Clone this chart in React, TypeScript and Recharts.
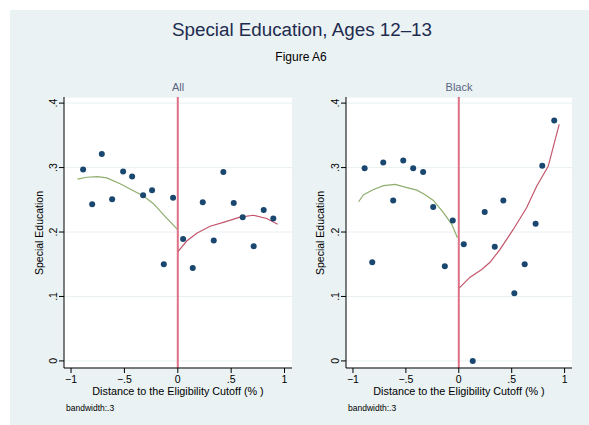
import React from "react";
import {
  ComposedChart,
  Scatter,
  Line,
  XAxis,
  YAxis,
  CartesianGrid,
  ReferenceLine,
} from "recharts";

// Binned means: distance to the eligibility cutoff (%) vs. special education rate
const allBinX = [-0.887, -0.802, -0.712, -0.615, -0.512, -0.428, -0.325, -0.241, -0.131, -0.044, 0.05, 0.14, 0.234, 0.337, 0.427, 0.524, 0.608, 0.711, 0.805, 0.895];
const allBinY = [0.297, 0.243, 0.321, 0.251, 0.294, 0.286, 0.257, 0.265, 0.15, 0.253, 0.189, 0.144, 0.246, 0.187, 0.293, 0.245, 0.223, 0.178, 0.234, 0.221];

const blackBinX = [-0.89, -0.818, -0.714, -0.62, -0.525, -0.431, -0.337, -0.242, -0.132, -0.057, 0.047, 0.132, 0.245, 0.34, 0.421, 0.525, 0.623, 0.726, 0.789, 0.902];
const blackBinY = [0.299, 0.153, 0.308, 0.249, 0.311, 0.299, 0.293, 0.239, 0.147, 0.218, 0.181, 0.0, 0.231, 0.177, 0.249, 0.105, 0.15, 0.213, 0.303, 0.373];

// Local fits left and right of the cutoff
const allLeftFitX = [-0.94, -0.852, -0.753, -0.665, -0.54, -0.416, -0.322, -0.228, -0.135, -0.004];
const allLeftFitY = [0.282, 0.285, 0.286, 0.284, 0.275, 0.264, 0.256, 0.244, 0.227, 0.204];
const allRightFitX = [0.003, 0.084, 0.178, 0.302, 0.427, 0.583, 0.708, 0.833, 0.936];
const allRightFitY = [0.17, 0.186, 0.198, 0.209, 0.215, 0.223, 0.226, 0.221, 0.212];

const blackLeftFitX = [-0.947, -0.9, -0.806, -0.711, -0.601, -0.491, -0.396, -0.318, -0.24, -0.145, -0.066, -0.013];
const blackLeftFitY = [0.247, 0.258, 0.266, 0.272, 0.274, 0.269, 0.265, 0.258, 0.249, 0.23, 0.212, 0.191];
const blackRightFitX = [0.003, 0.107, 0.217, 0.295, 0.39, 0.515, 0.642, 0.736, 0.845, 0.949];
const blackRightFitY = [0.113, 0.13, 0.142, 0.153, 0.173, 0.204, 0.238, 0.271, 0.302, 0.367];

const xTicks = [-1, -0.5, 0, 0.5, 1];
const xTickLabels = ["\u22121", "\u2212.5", "0", ".5", "1"];
const yTicks = [0, 0.1, 0.2, 0.3, 0.4];
const yTickLabels = ["0", ".1", ".2", ".3", ".4"];

const FONT = "'Liberation Sans', Arial, Helvetica, sans-serif";
const DOT = "#1a476f";
const GREEN = "#8fae6e";
const RED = "#c4566c";
const CUTOFF = "#df7088";

const zip = (xs: number[], ys: number[]) => xs.map((x, i) => ({ x, y: ys[i] }));

const YTick = (props: any) => {
  const { x, y, payload } = props;
  const i = yTicks.indexOf(payload.value);
  return (
    <text
      x={x}
      y={y}
      transform={`rotate(-90, ${x}, ${y})`}
      textAnchor="middle"
      fontSize={10.5}
      fontFamily={FONT}
      fill="#000"
    >
      {i >= 0 ? yTickLabels[i] : payload.value}
    </text>
  );
};

const Dot = (props: any) => {
  const { cx, cy } = props;
  if (cx == null || cy == null) return <g />;
  return <circle cx={cx} cy={cy} r={3} fill={DOT} />;
};

type PanelProps = {
  left: number;
  marginLeft: number;
  marginRight: number;
  points: { x: number; y: number }[];
  leftFit: { x: number; y: number }[];
  rightFit: { x: number; y: number }[];
};

const Panel = ({ left, marginLeft, marginRight, points, leftFit, rightFit }: PanelProps) => (
  <div style={{ position: "absolute", left, top: 80 }}>
    <ComposedChart
      width={289}
      height={345}
      margin={{ top: 17, right: marginRight, bottom: 27, left: marginLeft }}
    >
      <CartesianGrid
        vertical={false}
        horizontal={true}
        fill="#ffffff"
        stroke="#e8f0f1"
        strokeWidth={1}
      />
      <XAxis
        type="number"
        dataKey="x"
        domain={[-1.066, 1.07]}
        ticks={xTicks}
        tickFormatter={(v: number) => xTickLabels[xTicks.indexOf(v)] ?? String(v)}
        allowDataOverflow
        height={30}
        tickSize={5}
        tickMargin={3}
        stroke="#000"
        tick={{ fill: "#000", fontSize: 10.5, fontFamily: FONT }}
      />
      <YAxis
        type="number"
        dataKey="y"
        domain={[-0.011, 0.4095]}
        ticks={yTicks}
        allowDataOverflow
        width={30}
        tickSize={5}
        tickMargin={2}
        stroke="#000"
        tick={<YTick />}
      />
      <ReferenceLine x={0} stroke={CUTOFF} strokeWidth={2} ifOverflow="extendDomain" />
      <Line
        data={leftFit}
        dataKey="y"
        type="linear"
        stroke={GREEN}
        strokeWidth={1.2}
        dot={false}
        isAnimationActive={false}
      />
      <Line
        data={rightFit}
        dataKey="y"
        type="linear"
        stroke={RED}
        strokeWidth={1.2}
        dot={false}
        isAnimationActive={false}
      />
      <Scatter data={points} dataKey="y" shape={<Dot />} isAnimationActive={false} />
    </ComposedChart>
  </div>
);

const textBase: React.CSSProperties = {
  position: "absolute",
  fontFamily: FONT,
  whiteSpace: "nowrap",
  lineHeight: 1,
};

const Centered = ({ cx, top, size, color, children }: any) => (
  <div style={{ ...textBase, left: cx - 200, width: 400, top, fontSize: size, color, textAlign: "center" }}>
    {children}
  </div>
);

const YTitle = ({ cx, cy }: { cx: number; cy: number }) => (
  <div
    style={{
      ...textBase,
      left: cx - 60,
      top: cy - 6,
      width: 120,
      height: 12,
      fontSize: 10.5,
      color: "#000",
      textAlign: "center",
      transform: "rotate(-90deg)",
    }}
  >
    Special Education
  </div>
);

export default function App() {
  return (
    <div style={{ position: "absolute", left: 0, top: 0, width: 589, height: 425, background: "#ffffff", overflow: "hidden" }}>
      <div style={{ position: "absolute", left: 10, top: 10, width: 579, height: 415, background: "#eaf2f3" }} />

      <Centered cx={302} top={21} size={18.8} color="#1e2b4f">
        Special Education, Ages 12–13
      </Centered>
      <Centered cx={301} top={51} size={12} color="#000">
        Figure A6
      </Centered>

      <Centered cx={178} top={82} size={11} color="#5a6584">
        All
      </Centered>
      <Centered cx={459} top={82} size={11} color="#5a6584">
        Black
      </Centered>

      <Panel
        left={10}
        marginLeft={24}
        marginRight={7}
        points={zip(allBinX, allBinY)}
        leftFit={zip(allLeftFitX, allLeftFitY)}
        rightFit={zip(allRightFitX, allRightFitY)}
      />
      <Panel
        left={300}
        marginLeft={16}
        marginRight={17}
        points={zip(blackBinX, blackBinY)}
        leftFit={zip(blackLeftFitX, blackLeftFitY)}
        rightFit={zip(blackRightFitX, blackRightFitY)}
      />

      <YTitle cx={40} cy={233} />
      <YTitle cx={321} cy={233} />

      <Centered cx={178} top={386} size={10.8} color="#000">
        Distance to the Eligibility Cutoff (% )
      </Centered>
      <Centered cx={459} top={386} size={10.8} color="#000">
        Distance to the Eligibility Cutoff (% )
      </Centered>

      <div style={{ ...textBase, left: 66, top: 404, fontSize: 8.5, color: "#000" }}>bandwidth:.3</div>
      <div style={{ ...textBase, left: 348, top: 404, fontSize: 8.5, color: "#000" }}>bandwidth:.3</div>
    </div>
  );
}
